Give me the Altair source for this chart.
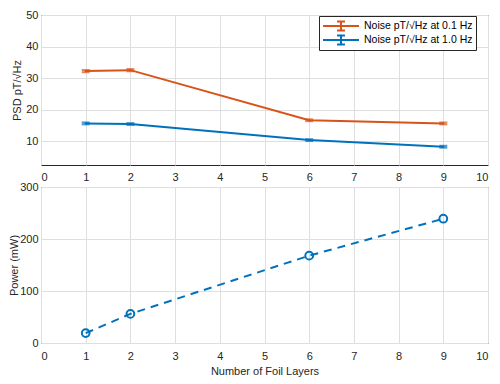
import altair as alt
import pandas as pd

# ---- data ----
layers = [1, 2, 6, 9]
noise_01hz = [32.2, 32.5, 16.6, 15.6]
noise_10hz = [15.6, 15.4, 10.3, 8.2]
err_01hz = [0.35, 0.35, 0.3, 0.3]
err_10hz = [0.3, 0.3, 0.3, 0.3]
power_mw = [19, 56, 168, 239]
series_names = ["Noise pT/\u221aHz at 0.1 Hz", "Noise pT/\u221aHz at 1.0 Hz"]
series_colors = ["#D95319", "#0072BD"]
x_ticks = list(range(0, 11))
psd_ticks = [10, 20, 30, 40, 50]
power_ticks = [0, 100, 200, 300]

rows = []
for name, vals, errs in [(series_names[0], noise_01hz, err_01hz),
                         (series_names[1], noise_10hz, err_10hz)]:
    for x, v, e in zip(layers, vals, errs):
        rows.append({"layers": x, "psd": v, "lo": v - e, "hi": v + e, "series": name})
df = pd.DataFrame(rows)
pdf = pd.DataFrame({"layers": layers, "power": power_mw})

FONT = "Liberation Sans"
TXT = "#262626"

xscale = alt.Scale(domain=[0, 10], nice=False, zero=False)
yscale_top = alt.Scale(domain=[2.4, 50], nice=False, zero=False)
color = alt.Color(
    "series:N",
    scale=alt.Scale(domain=series_names, range=series_colors),
    legend=alt.Legend(
        title=None, orient="none", legendX=278, legendY=1,
        symbolType="M-1,0L1,0M0,-0.25L0,0.25M-0.22,-0.25L0.22,-0.25M-0.22,0.25L0.22,0.25",
        symbolSize=1296, symbolStrokeWidth=2, clipHeight=14, rowPadding=0,
        labelFont=FONT, labelFontSize=10.5, labelColor="#000000", labelOffset=4,
        strokeColor="#262626", fillColor="white", padding=3,
    ),
)
color_nolegend = alt.Color("series:N", scale=alt.Scale(domain=series_names, range=series_colors), legend=None)

top_xaxis = alt.Axis(values=x_ticks, title=None, grid=True, labelPadding=6, labelOverlap=False)
top_yaxis = alt.Axis(values=psd_ticks, title="PSD pT/\u221aHz", grid=True,
                     titlePadding=3, labelPadding=3, labelOverlap=False)

def tx():
    return alt.X("layers:Q", scale=xscale, axis=top_xaxis)

def ty(field):
    return alt.Y(field + ":Q", scale=yscale_top, axis=top_yaxis)

base_top = alt.Chart(df)
lines = base_top.mark_line(strokeWidth=2).encode(x=tx(), y=ty("psd"), color=color)
bars = base_top.mark_rule(strokeWidth=2).encode(x=tx(), y=ty("lo"), y2="hi:Q", color=color_nolegend)
cap_lo = base_top.mark_tick(thickness=2, size=8, orient="horizontal").encode(
    x=tx(), y=ty("lo"), color=color_nolegend)
cap_hi = base_top.mark_tick(thickness=2, size=8, orient="horizontal").encode(
    x=tx(), y=ty("hi"), color=color_nolegend)
top = alt.layer(lines, bars, cap_lo, cap_hi).properties(width=447, height=150)

bot_xaxis = alt.Axis(values=x_ticks, title="Number of Foil Layers", grid=True,
                     labelPadding=7, titlePadding=4, labelOverlap=False)
bot_yaxis = alt.Axis(values=power_ticks, title="Power (mW)", grid=True,
                     titlePadding=0, labelPadding=3, labelOverlap=False)
bx = alt.X("layers:Q", scale=xscale, axis=bot_xaxis)
by = alt.Y("power:Q", scale=alt.Scale(domain=[0, 300], nice=False), axis=bot_yaxis)
base_bot = alt.Chart(pdf)
pline = base_bot.mark_line(strokeWidth=2, strokeDash=[8, 6], color="#0072BD").encode(x=bx, y=by)
ppts = base_bot.mark_point(shape="circle", size=60, strokeWidth=2, filled=False,
                           color="#0072BD", opacity=1).encode(x=bx, y=by)
bottom = alt.layer(pline, ppts).properties(width=447, height=156)

chart = alt.vconcat(top, bottom, spacing=22, bounds="flush").properties(
    padding={"left": 0, "top": 0, "right": 3, "bottom": 2}
).configure_view(
    stroke=TXT, strokeWidth=1
).configure_axis(
    labelFont=FONT, labelFontSize=11, labelColor=TXT, labelOverlap=False,
    titleFont=FONT, titleFontSize=11, titleColor=TXT, titleFontWeight="normal",
    gridColor="#dfdfdf", gridWidth=1, domain=False, ticks=False,
).configure_legend(
    labelFont=FONT
)

chart.save("out.html", embed_options={"renderer": "svg", "actions": False})
